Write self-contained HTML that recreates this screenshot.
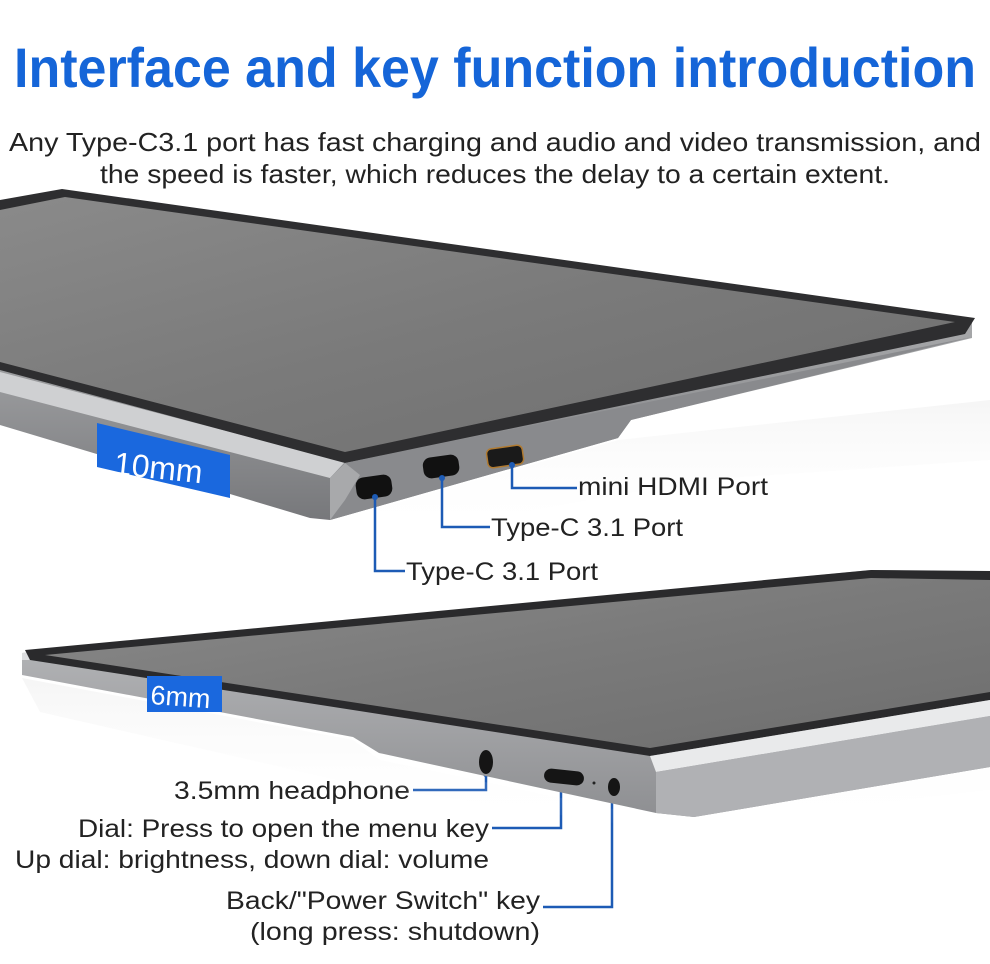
<!DOCTYPE html>
<html><head><meta charset="utf-8"><style>
html,body{margin:0;padding:0;background:#fff;}
svg{display:block;}
text{font-family:"Liberation Sans",sans-serif;}
</style></head><body>
<svg width="990" height="964" viewBox="0 0 990 964" xmlns="http://www.w3.org/2000/svg">
<defs>
<linearGradient id="scr" x1="0" y1="0" x2="1" y2="1">
<stop offset="0" stop-color="#8a8a8a"/><stop offset="0.5" stop-color="#7a7a7a"/><stop offset="1" stop-color="#6e6e6e"/></linearGradient>
<linearGradient id="body" x1="0" y1="0" x2="0" y2="1">
<stop offset="0" stop-color="#a8a9ab"/><stop offset="1" stop-color="#77787b"/></linearGradient>
<linearGradient id="body2" x1="0" y1="0" x2="0" y2="1">
<stop offset="0" stop-color="#c2c3c5"/><stop offset="1" stop-color="#8e8f92"/></linearGradient>
<linearGradient id="sh" x1="0" y1="0" x2="0" y2="1">
<stop offset="0" stop-color="#e4e4e4"/><stop offset="1" stop-color="#ffffff" stop-opacity="0"/></linearGradient>
</defs>
<rect width="990" height="964" fill="#fff"/>
<text x="495" y="87" text-anchor="middle" font-size="56" font-weight="bold" fill="#1565d8" textLength="962" lengthAdjust="spacingAndGlyphs">Interface and key function introduction</text>
<text x="495" y="151" text-anchor="middle" font-size="26" fill="#222" textLength="972" lengthAdjust="spacingAndGlyphs">Any Type-C3.1 port has fast charging and audio and video transmission, and</text>
<text x="495" y="183" text-anchor="middle" font-size="26" fill="#222" textLength="790" lengthAdjust="spacingAndGlyphs">the speed is faster, which reduces the delay to a certain extent.</text>

<!-- top monitor shadow -->
<polygon points="330,522 618,440 990,400 990,460 700,480 400,535" fill="url(#sh)" opacity="0.35"/>
<!-- top monitor body -->
<polygon points="0,370 972,322 972,338 631,420 618,438 330,520 310,518 0,425" fill="url(#body)"/>
<polygon points="0,372 345,462 330,478 0,392" fill="#cfd0d2"/>
<polygon points="0,200 62,189 975,318 965,334 345,463 0,370" fill="#2e2e30"/>
<polygon points="0,210 65,197 955,322 345,452 0,362" fill="url(#scr)"/>
<polygon points="345,463 972,337 631,420 618,438 330,520 330,478" fill="#898a8d"/>
<polygon points="330,478 345,463 360,475 345,500 330,520" fill="#b5b6b8" opacity="0.7"/>
<!-- 10mm label -->
<polygon points="97,423 230,455 230,498 97,467" fill="#1a68de"/>
<text x="113" y="474" font-size="32" fill="#fff" transform="rotate(6 113 474)">10mm</text>
<!-- ports top -->
<rect x="356" y="476" width="36" height="22" rx="8" fill="#111" transform="rotate(-8 374 487)"/>
<rect x="423" y="456" width="36" height="21" rx="8" fill="#111" transform="rotate(-8 441 466)"/>
<rect x="487" y="447" width="36" height="19" rx="5" fill="#1a1a1a" stroke="#b07a30" stroke-width="1.5" transform="rotate(-8 505 456)"/>
<g stroke="#1d5bb5" stroke-width="2.5" fill="none">
<polyline points="375,497 375,571 405,571"/>
<polyline points="442,478 442,527 490,527"/>
<polyline points="512,465 512,488 577,488"/>
<polyline points="486,774 486,790 413,790"/>
<polyline points="561,785 561,828 492,828"/>
<polyline points="612,795 612,907 543,907"/>
</g>
<g fill="#1d5bb5"><circle cx="375" cy="497" r="3"/><circle cx="442" cy="478" r="3"/><circle cx="512" cy="465" r="3"/><circle cx="486" cy="774" r="3"/><circle cx="561" cy="785" r="3"/><circle cx="612" cy="795" r="3"/></g>
<g font-size="25" fill="#222">
<text x="578" y="495" textLength="190" lengthAdjust="spacingAndGlyphs">mini HDMI Port</text>
<text x="491" y="536" textLength="192" lengthAdjust="spacingAndGlyphs">Type-C 3.1 Port</text>
<text x="406" y="580" textLength="192" lengthAdjust="spacingAndGlyphs">Type-C 3.1 Port</text>
<text x="410" y="799" text-anchor="end" textLength="236" lengthAdjust="spacingAndGlyphs">3.5mm headphone</text>
<text x="489" y="837" text-anchor="end" textLength="411" lengthAdjust="spacingAndGlyphs">Dial: Press to open the menu key</text>
<text x="489" y="868" text-anchor="end" textLength="474" lengthAdjust="spacingAndGlyphs">Up dial: brightness, down dial: volume</text>
<text x="540" y="909" text-anchor="end" textLength="314" lengthAdjust="spacingAndGlyphs">Back/"Power Switch" key</text>
<text x="540" y="940" text-anchor="end" textLength="290" lengthAdjust="spacingAndGlyphs">(long press: shutdown)</text>
</g>

<!-- bottom monitor shadow -->
<polygon points="22,678 353,740 380,760 656,818 990,768 990,790 660,830 360,785 40,712" fill="url(#sh)" opacity="0.35"/>
<!-- bottom monitor body -->
<polygon points="22,653 871,570 990,572 990,767 694,817 656,813 379,753 353,737 22,675" fill="url(#body2)"/>
<polygon points="22,653 871,570 990,572 990,590 63,660 22,660" fill="#dcdddf"/>
<polygon points="25,650 871,570 990,571 990,700 650,756 30,660" fill="#2a2a2c"/>
<polygon points="45,655 871,578 990,580 990,692 650,748" fill="url(#scr)"/>
<polygon points="650,756 990,700 990,716 656,772" fill="#e9eaeb"/>
<polygon points="656,772 990,716 990,767 694,817 656,813" fill="#b0b1b4"/>
<!-- 6mm label -->
<rect x="147" y="676" width="75" height="36" fill="#1a68de"/>
<text x="150" y="704" font-size="27" fill="#fff" transform="rotate(4 150 704)">6mm</text>
<!-- bottom ports -->
<ellipse cx="486" cy="762" rx="7" ry="12" fill="#151515"/>
<rect x="544" y="770" width="40" height="14" rx="7" fill="#151515" transform="rotate(6 564 777)"/>
<circle cx="594" cy="783" r="1.5" fill="#222"/>
<ellipse cx="614" cy="787" rx="6" ry="9" fill="#151515"/>
</svg>
</body></html>
